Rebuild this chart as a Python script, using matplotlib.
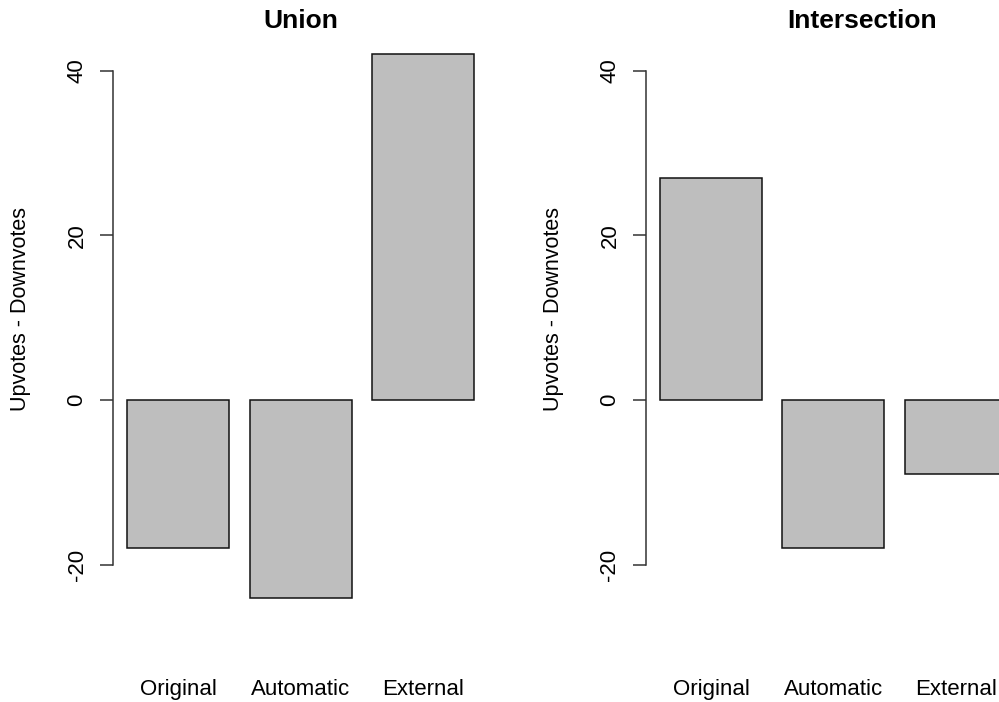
import matplotlib
matplotlib.use("Agg")
import matplotlib.pyplot as plt
from matplotlib.transforms import blended_transform_factory

plt.rcParams['font.family'] = ['Liberation Sans', 'DejaVu Sans']

categorias = ["Original", "Automatic", "External"]
uniao = [-18, -24, 42]
intersecao = [27, -18, -9]
titulos = ["Union", "Intersection"]
yTicks = [-20, 0, 20, 40]

W, H = 999, 702
fig = plt.figure(figsize=(W / 100, H / 100), dpi=100)

# posicoes em pixels: eixo esquerdo, deslocamento do segundo painel
baseX = 113.3
passo = 532.8
topo, base = 32.6, 619.3
larg = 374.5
tituloX = [301, 862]


def desenha(i, valores, titulo):
    left = baseX + i * passo
    ax = fig.add_axes([left / W, (H - base) / H, larg / W, (base - topo) / H])
    xs = [0.7 + 1.2 * k for k in range(len(valores))]
    ax.bar(xs, valores, width=1.0, color="#bebebe", edgecolor="#111111", linewidth=1.1)
    ax.set_xlim(0.064, 3.736)
    ax.set_ylim(-26.64, 44.64)
    for s in ["top", "right", "bottom"]:
        ax.spines[s].set_visible(False)
    ax.spines["left"].set_bounds(-20, 40)
    ax.spines["left"].set_color("#333333")
    ax.spines["left"].set_linewidth(1.1)
    ax.set_xticks([])
    ax.set_yticks(yTicks)
    ax.set_yticklabels([str(v) for v in yTicks], rotation=90, va="center")
    ax.tick_params(axis="y", length=9.5, width=1.1, color="#333333", pad=9.0, labelsize=16)
    trans = blended_transform_factory(ax.transData, fig.transFigure)
    for x, nome in zip(xs, categorias):
        ax.text(x, 7 / H, nome, transform=trans, ha="center", va="baseline", fontsize=16)
    fig.text(tituloX[i] / W, (H - 28) / H, titulo, ha="center", va="baseline",
             fontsize=19, fontweight="bold")
    fig.text((21 + i * passo) / W, (H - 309) / H, "Upvotes - Downvotes", rotation=90,
             ha="center", va="center", fontsize=15.5)


desenha(0, uniao, titulos[0])
desenha(1, intersecao, titulos[1])

plt.savefig("out.png", dpi=100)
